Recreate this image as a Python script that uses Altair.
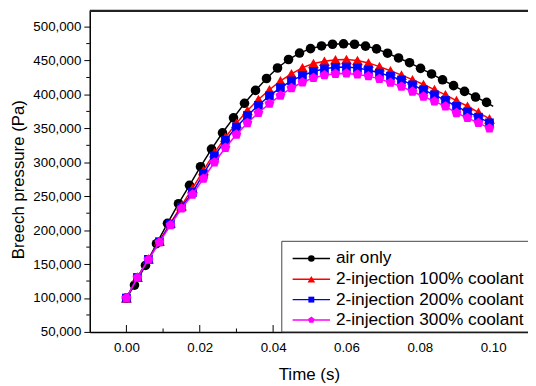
import altair as alt
import pandas as pd

FONT = "Liberation Sans"

series_names = ["air only", "2-injection 100% coolant", "2-injection 200% coolant", "2-injection 300% coolant"]
series_colors = ["#000000", "#ff0000", "#0000ff", "#ff00ff"]
pentagon = "M0,-1L0.951,-0.309L0.588,0.809L-0.588,0.809L-0.951,-0.309Z"
series_shapes = ["circle", "triangle-up", "square", pentagon]
series_sizes = [95, 125, 78, 110]
legend_sizes = [45, 60, 36, 50]

# air only (its last point ends the line without a marker)
time_air = [0.0, 0.0022, 0.0052, 0.0082, 0.0112, 0.0142, 0.0172, 0.0202, 0.0232, 0.0262,
            0.0292, 0.0322, 0.0352, 0.0382, 0.0412, 0.0442, 0.0472, 0.0502, 0.0532, 0.0562,
            0.0592, 0.0622, 0.0652, 0.0682, 0.0712, 0.0742, 0.0772, 0.0802, 0.0832, 0.0862,
            0.0892, 0.0922, 0.0952, 0.0982, 0.1000]
p_air = [100000, 119000, 148000, 180000, 210000, 239000, 266000, 293500, 319500, 343500,
         365500, 387000, 406000, 423500, 439000, 451500, 461000, 467500, 471500, 474000,
         474700, 474000, 471300, 467200, 460800, 453800, 446800, 438500, 430200, 421600,
         413000, 404500, 396200, 388300, 382500]
marker_air = [True] * 34 + [False]

time_inj = [0.000, 0.003, 0.006, 0.009, 0.012, 0.015, 0.018, 0.021, 0.024, 0.027,
            0.030, 0.033, 0.036, 0.039, 0.042, 0.045, 0.048, 0.051, 0.054, 0.057,
            0.060, 0.063, 0.066, 0.069, 0.072, 0.075, 0.078, 0.081, 0.084, 0.087,
            0.090, 0.093, 0.096, 0.099]
p_100 = [100000, 130500, 157500, 184000, 210500, 236000, 261500, 288000, 314000, 337000,
         357500, 376500, 392500, 407000, 420000, 430500, 439500, 445500, 449000, 451000,
         451500, 450000, 446500, 441000, 435000, 428500, 421800, 414600, 407200, 399500,
         391000, 382600, 373600, 364000]
p_200 = [100000, 130300, 157000, 183000, 209000, 234000, 255500, 283000, 309500, 332500,
         352000, 369000, 384000, 398000, 410000, 420000, 428000, 433800, 437800, 440000,
         440500, 439000, 436000, 431500, 427000, 421400, 414100, 406800, 399500, 391200,
         382500, 374200, 366500, 358200]
p_300 = [100000, 130000, 156500, 182000, 207500, 232000, 252500, 276000, 300000, 321500,
         341000, 358000, 373000, 386500, 398500, 409500, 418000, 424500, 428500, 430500,
         431000, 429500, 427000, 423000, 417500, 411600, 404300, 397000, 389700, 382500,
         372700, 365400, 358200, 350000]

x_major_ticks = [0.00, 0.02, 0.04, 0.06, 0.08, 0.10]
x_minor_ticks = [0.01, 0.03, 0.05, 0.07, 0.09]
y_ticks = [50000, 100000, 150000, 200000, 250000, 300000, 350000, 400000, 450000, 500000]
y_minor_ticks = [75000, 125000, 175000, 225000, 275000, 325000, 375000, 425000, 475000]

W, H = 445, 326

xs = alt.Scale(domain=[-0.01, 0.1095], nice=False, zero=False)
ys = alt.Scale(domain=[50000, 523200], nice=False, zero=False)

xaxis = alt.Axis(values=x_major_ticks, format=".2f", title="Time (s)", ticks=False, grid=False,
                 domainColor="black", domainWidth=1.5, labelFont=FONT, labelFontSize=13.5,
                 labelColor="black", labelPadding=9, titleFont=FONT, titleFontSize=17.2,
                 titleFontWeight="normal", titleColor="black", titleY=43, titleBaseline="middle")
yaxis = alt.Axis(values=y_ticks, format=",d", title="Breech pressure (Pa)", grid=False,
                 tickSize=6, tickColor="black", tickWidth=1, domainColor="black", domainWidth=1.5,
                 labelFont=FONT, labelFontSize=13.5, labelColor="black", labelPadding=3,
                 titleFont=FONT, titleFontSize=17, titleFontWeight="normal", titleColor="black",
                 titleX=-72, titleY=171, titleBaseline="middle", titleAlign="center")

X = alt.X("t:Q", scale=xs, axis=xaxis)
Y = alt.Y("p:Q", scale=ys, axis=yaxis)

series_data = [
    pd.DataFrame({"t": time_air, "p": p_air, "m": marker_air}),
    pd.DataFrame({"t": time_inj, "p": p_100, "m": [True] * len(time_inj)}),
    pd.DataFrame({"t": time_inj, "p": p_200, "m": [True] * len(time_inj)}),
    pd.DataFrame({"t": time_inj, "p": p_300, "m": [True] * len(time_inj)}),
]

layers = []
for df, c, shp, sz in zip(series_data, series_colors, series_shapes, series_sizes):
    layers.append(alt.Chart(df).mark_line(color=c, strokeWidth=1.5).encode(x=X, y=Y))
    layers.append(
        alt.Chart(df[df["m"]]).mark_point(filled=True, opacity=1, color=c, shape=shp, size=sz,
                                          strokeWidth=0).encode(x=X, y=Y)
    )

# inward x ticks
layers.append(alt.Chart(pd.DataFrame({"t": x_major_ticks})).mark_rule(color="black", strokeWidth=1)
              .encode(x=X, y=alt.value(H - 7), y2=alt.value(H)))
layers.append(alt.Chart(pd.DataFrame({"t": x_minor_ticks})).mark_rule(color="black", strokeWidth=1)
              .encode(x=X, y=alt.value(H - 3.5), y2=alt.value(H)))
# outward minor y ticks
layers.append(alt.Chart(pd.DataFrame({"p": y_minor_ticks})).mark_rule(color="black", strokeWidth=1)
              .encode(y=Y, x=alt.value(-3.5), x2=alt.value(0)))

# legend box
box_df = pd.DataFrame({"a": [0]})
layers.append(alt.Chart(box_df).mark_rect(fill="white", stroke="#444444", strokeWidth=1)
              .encode(x=alt.value(195), x2=alt.value(470), y=alt.value(234), y2=alt.value(H)))
row_y = [251.5, 272.5, 293.2, 313.9]
for name, c, shp, sz, ry in zip(series_names, series_colors, series_shapes, legend_sizes, row_y):
    ldf = pd.DataFrame({"label": [name]})
    layers.append(alt.Chart(ldf).mark_rule(color=c, strokeWidth=1.5)
                  .encode(x=alt.value(206), x2=alt.value(244), y=alt.value(ry)))
    layers.append(alt.Chart(ldf).mark_point(filled=True, opacity=1, color=c, shape=shp, size=sz,
                                            strokeWidth=0)
                  .encode(x=alt.value(225), y=alt.value(ry)))
    layers.append(alt.Chart(ldf).mark_text(align="left", baseline="middle", font=FONT,
                                           fontSize=17.5, color="black")
                  .encode(x=alt.value(250), y=alt.value(ry), text="label:N"))

# top frame line
layers.append(alt.Chart(box_df).mark_rule(color="#222222", strokeWidth=2.5)
              .encode(x=alt.value(0), x2=alt.value(W + 5), y=alt.value(0)))

chart = alt.layer(*layers).properties(
    width=W, height=H,
    autosize=alt.AutoSizeParams(type="none"),
    padding={"left": 83, "top": 0, "right": 0, "bottom": 52},
    background="white",
).configure_view(stroke=None)

chart.save("out.html", embed_options={"renderer": "svg", "actions": False})
